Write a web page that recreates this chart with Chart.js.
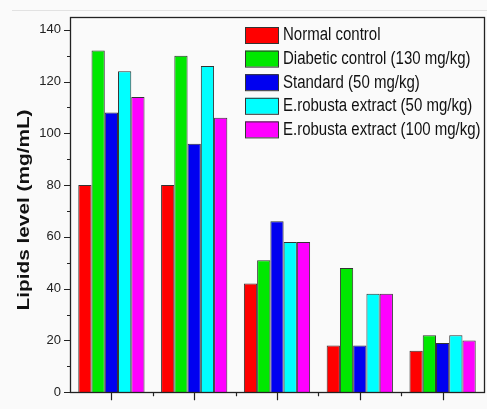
<!DOCTYPE html>
<html>
<head>
<meta charset="utf-8">
<script src="https://cdn.jsdelivr.net/npm/chart.js@4"></script>
<style>
html,body{margin:0;padding:0;background:#fafafa;}
#wrap{width:487px;height:409px;position:relative;}
</style>
</head>
<body>
<div id="wrap"><canvas id="c" width="487" height="409"></canvas></div>
<script>
const categories = ["Group 1", "Group 2", "Group 3", "Group 4", "Group 5"];
const seriesNames = ["Normal control", "Diabetic control (130 mg/kg)", "Standard (50 mg/kg)", "E.robusta extract (50 mg/kg)", "E.robusta extract (100 mg/kg)"];
const normalControl = [80, 80, 42, 18, 16];
const diabeticControl = [132, 130, 51, 48, 22];
const standard = [108, 96, 66, 18, 19];
const extract50 = [124, 126, 58, 38, 22];
const extract100 = [114, 106, 58, 38, 20];
const yTicks = [0, 20, 40, 60, 80, 100, 120, 140];
const yTitle = "Lipids level (mg/mL)";

const colors = ["#ff0000", "#00e800", "#0000f0", "#00ffff", "#ff00ff"];
const seriesValues = [normalControl, diabeticControl, standard, extract50, extract100];

const FONT = "'Liberation Sans', Arial, sans-serif";

const decor = {
  id: 'decor',
  beforeDraw(chart) {
    const ctx = chart.ctx;
    ctx.save();
    ctx.strokeStyle = '#e2e2e2';
    ctx.lineWidth = 1;
    ctx.beginPath();
    ctx.moveTo(12, 10.5); ctx.lineTo(487, 10.5);
    ctx.stroke();
    ctx.restore();
  },
  afterDraw(chart) {
    const ctx = chart.ctx;
    const a = chart.chartArea;
    const x = chart.scales.x, y = chart.scales.y;
    ctx.save();
    ctx.strokeStyle = '#222';
    ctx.lineWidth = 1.3;
    ctx.strokeRect(Math.round(a.left) + 0.5, Math.round(a.top) + 0.5, Math.round(a.right - a.left), Math.round(a.bottom - a.top));
    ctx.lineWidth = 1.2;
    ctx.beginPath();
    // y ticks
    for (let v = 0; v <= 140; v += 10) {
      const py = Math.round(y.getPixelForValue(v)) + 0.5;
      const len = (v % 20 === 0) ? 6 : 3;
      ctx.moveTo(a.left - len, py); ctx.lineTo(a.left, py);
    }
    // x ticks
    const n = categories.length;
    for (let i = 0; i < n; i++) {
      const px = Math.round(x.getPixelForValue(i)) + 0.5;
      ctx.moveTo(px, a.bottom); ctx.lineTo(px, a.bottom + 8);
    }
    for (let i = 0; i < n - 1; i++) {
      const px = Math.round((x.getPixelForValue(i) + x.getPixelForValue(i + 1)) / 2) + 0.5;
      ctx.moveTo(px, a.bottom); ctx.lineTo(px, a.bottom + 4);
    }
    ctx.stroke();

    // y-axis title
    ctx.save();
    ctx.translate(25, 210);
    ctx.rotate(-Math.PI / 2);
    ctx.scale(1.3, 1);
    ctx.fillStyle = '#111';
    ctx.font = 'bold 16px ' + FONT;
    ctx.textAlign = 'center';
    ctx.textBaseline = 'middle';
    ctx.fillText(yTitle, 0, 0);
    ctx.restore();

    // legend
    const ds = chart.data.datasets;
    for (let i = 0; i < ds.length; i++) {
      const top = 27 + i * 23.6;
      ctx.fillStyle = ds[i].backgroundColor;
      ctx.fillRect(245, top, 33, 16);
      ctx.strokeStyle = '#333';
      ctx.lineWidth = 1;
      ctx.strokeRect(245.5, top + 0.5, 33, 16);
      ctx.save();
      ctx.translate(283, top + 8.5);
      ctx.scale(1, 1.2);
      ctx.fillStyle = '#111';
      ctx.font = '15px ' + FONT;
      ctx.textAlign = 'left';
      ctx.textBaseline = 'middle';
      ctx.fillText(ds[i].label, 0, 0);
      ctx.restore();
    }
    ctx.restore();
  }
};

new Chart(document.getElementById('c'), {
  type: 'bar',
  data: {
    labels: categories,
    datasets: seriesNames.map((name, i) => ({
      label: name,
      data: seriesValues[i],
      backgroundColor: colors[i],
      borderColor: '#333',
      borderWidth: 1,
      categoryPercentage: 0.8,
      barPercentage: 1.0
    }))
  },
  options: {
    responsive: false,
    animation: false,
    devicePixelRatio: 1,
    layout: { padding: { left: 0, right: 3, top: 15, bottom: 0 } },
    plugins: { legend: { display: false }, tooltip: { enabled: false } },
    scales: {
      x: {
        offset: true,
        grid: { display: false, drawTicks: false },
        border: { display: false },
        ticks: { display: false },
        afterFit(s) { s.height = 8; }
      },
      y: {
        min: 0,
        max: 145,
        grid: { display: false, drawTicks: false },
        border: { display: false },
        ticks: {
          stepSize: 20,
          padding: 9,
          color: '#222',
          font: { family: FONT, size: 13 }
        },
        afterBuildTicks(s) { s.ticks = yTicks.map(v => ({ value: v })); },
        afterFit(s) { s.width = 70; }
      }
    }
  },
  plugins: [decor]
});
</script>
</body>
</html>
